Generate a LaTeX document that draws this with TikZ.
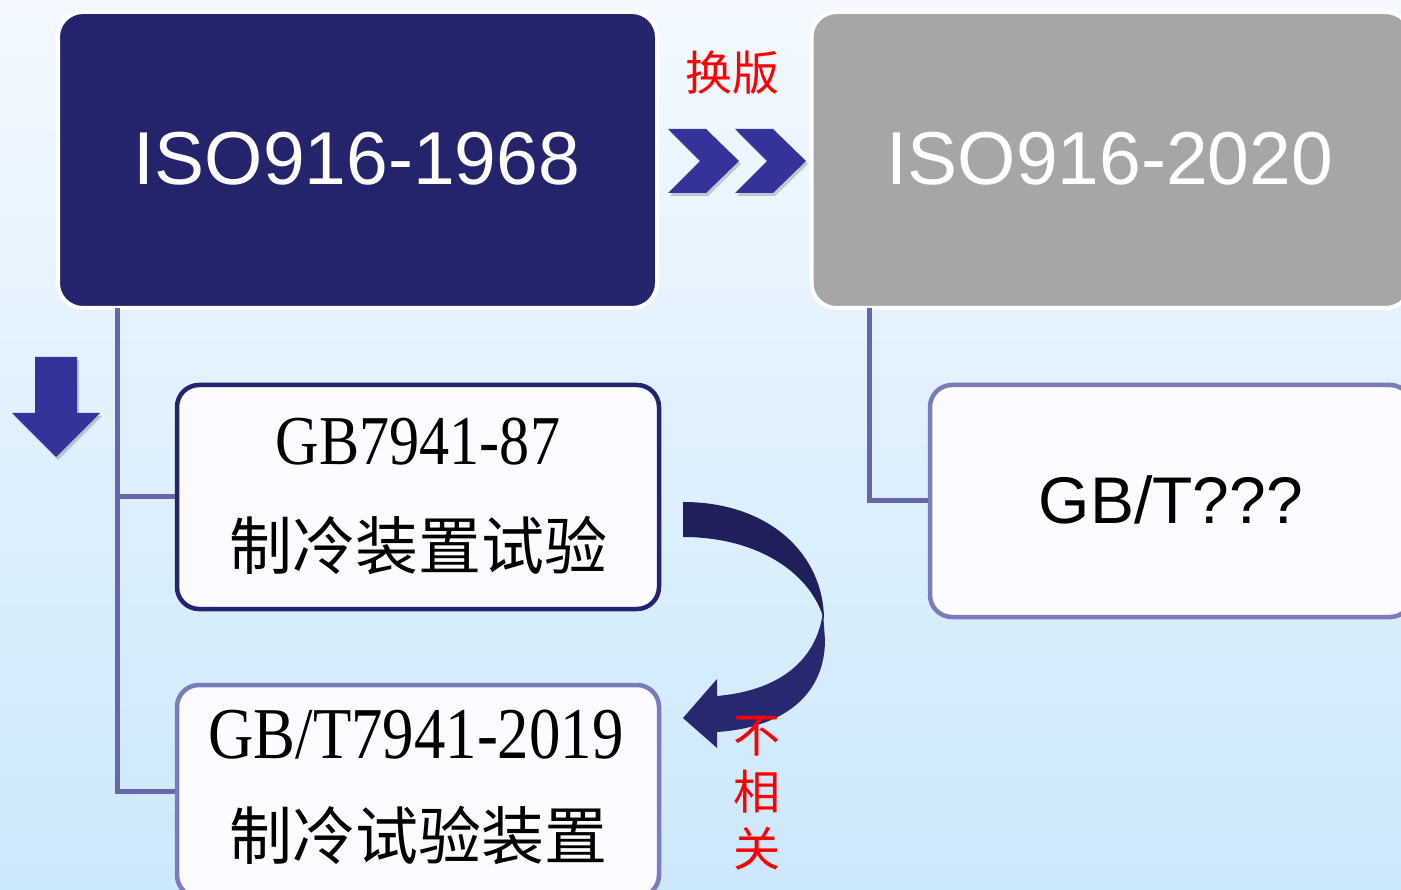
\documentclass[tikz,border=0pt]{standalone}
\usepackage{fontspec}
\setmainfont{Liberation Sans}
\newfontfamily\cjk{Noto Sans CJK SC}
\newfontfamily\gbfont[FakeStretch=0.86]{Liberation Serif}
\definecolor{navy}{RGB}{36,36,108}
\definecolor{boxgray}{RGB}{166,166,166}
\definecolor{chev}{RGB}{51,51,153}
\definecolor{linec}{RGB}{102,102,170}
\definecolor{lightborder}{RGB}{123,123,187}
\definecolor{arrowdark}{RGB}{31,31,92}
\definecolor{arrowmid}{RGB}{40,40,112}
\definecolor{bgtop}{RGB}{243,249,255}
\definecolor{bgbot}{RGB}{204,232,251}
\definecolor{boxfill}{RGB}{250,252,255}
\begin{document}
\begin{tikzpicture}[x=1pt,y=1pt,
  topbox/.style={draw=white, line width=4pt, rounded corners=25pt, minimum width=599pt, minimum height=296pt, inner sep=0pt},
  subbox/.style={fill=boxfill, line width=4.5pt, rounded corners=22pt, minimum width=482pt, inner sep=0pt},
  bigtxt/.style={text=white, font=\fontsize{75}{80}\selectfont, inner sep=0pt, anchor=base},
  gbtxt/.style={text=black, font=\gbfont\fontsize{70}{74}\selectfont, inner sep=0pt, anchor=base},
  cntxt/.style={text=black, font=\cjk\fontsize{63}{66}\selectfont, inner sep=0pt},
  redtxt/.style={text=red, font=\cjk\fontsize{47}{57}\selectfont, inner sep=0pt, align=center},
  conn/.style={draw=linec, line width=5pt},
  shadowc/.style={fill=black, opacity=0.18}
]
\useasboundingbox (0,0) rectangle (1401,-890);
\clip (0,0) rectangle (1401,-890);
\shade[top color=bgtop, bottom color=bgbot] (0,0) rectangle (1401,-890);

% top boxes
\node[topbox, fill=navy] (iso68) at (357.5,-160) {};
\node[topbox, fill=boxgray] (iso20) at (1111,-160) {};
\node[bigtxt] (t68) at (357,-185) {ISO916-1968};
\node[bigtxt] (t20) at (1110,-185) {ISO916-2020};

% sub boxes
\node[subbox, draw=navy, minimum height=224pt] (gb87) at (418,-497) {};
\node[subbox, draw=lightborder, minimum height=212pt] (gb19) at (418,-791) {};
\node[subbox, draw=lightborder, minimum height=232pt] (gbt) at (1171,-501) {};

\node[gbtxt] (gb87a) at (418,-465) {GB7941-87};
\node[cntxt] (gb87b) at (418,-545) {制冷装置试验};
\node[gbtxt, font=\gbfont\fontsize{73}{76}\selectfont] (gb19a) at (416,-758) {GB/T7941-2019};
\node[cntxt] (gb19b) at (418,-835) {制冷试验装置};
\node[text=black, font=\fontsize{66}{70}\selectfont, inner sep=0pt, anchor=base] (gbtt) at (1171,-523) {GB/T???};

% connectors
\coordinate (t1) at (117,-308);
\coordinate (t2) at (869,-308);
\draw[conn] (t1) |- (gb87.west);
\draw[conn] (t1) |- (gb19.west);
\draw[conn] (t2) |- (gbt.west);

% chevrons
\begin{scope}[shift={(2,-3)}]
\fill[shadowc] (668,-129) -- (706,-129) -- (739,-161) -- (706,-193) -- (668,-193) -- (700,-161) -- cycle;
\fill[shadowc] (735,-129) -- (773,-129) -- (806,-161) -- (773,-193) -- (735,-193) -- (767,-161) -- cycle;
\end{scope}
\fill[chev] (668,-129) -- (706,-129) -- (739,-161) -- (706,-193) -- (668,-193) -- (700,-161) -- cycle;
\fill[chev] (735,-129) -- (773,-129) -- (806,-161) -- (773,-193) -- (735,-193) -- (767,-161) -- cycle;
\node[redtxt] (huanban) at (732,-73) {换版};

% down arrow
\fill[shadowc, shift={(2,-3)}] (35,-357) -- (77,-357) -- (77,-413) -- (100,-413) -- (56,-457) -- (12,-413) -- (35,-413) -- cycle;
\fill[chev] (35,-357) -- (77,-357) -- (77,-413) -- (100,-413) -- (56,-457) -- (12,-413) -- (35,-413) -- cycle;

% curved arrow
\fill[arrowmid] (823,-612) .. controls (816,-664) and (775,-691) .. (717,-696) -- (717,-679) -- (683,-718) -- (717,-748) -- (717,-732) .. controls (790,-727) and (825,-690) .. (825,-640) -- cycle;
\fill[arrowdark] (683,-502) .. controls (770,-502) and (824,-555) .. (824,-620) .. controls (812,-575) and (760,-537) .. (683,-537) -- cycle;
\node[redtxt] (buxiang) at (757,-793) {不\\相\\关};
\end{tikzpicture}
\end{document}
